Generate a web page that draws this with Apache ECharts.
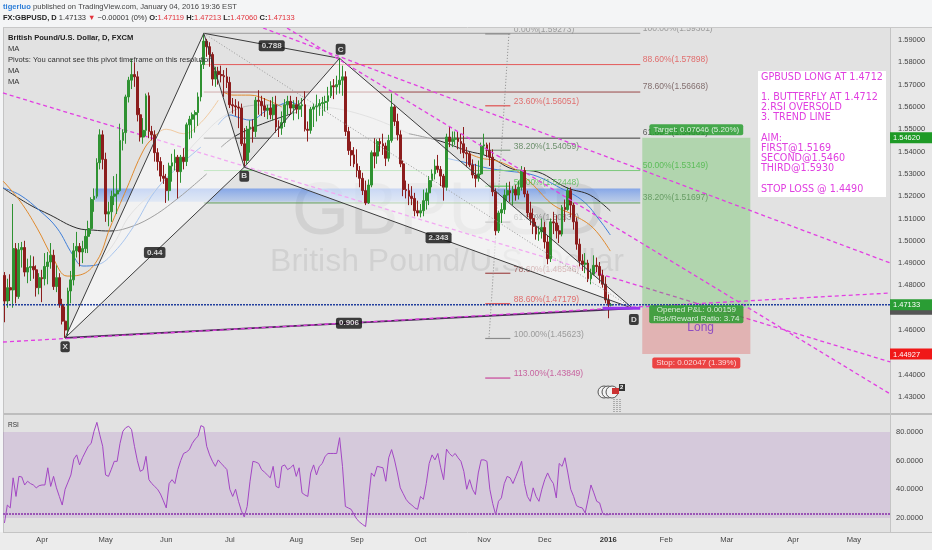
<!DOCTYPE html>
<html><head><meta charset="utf-8">
<script src="https://cdn.jsdelivr.net/npm/echarts@6/dist/echarts.min.js"></script>
<style>html,body{margin:0;padding:0;background:#f4f5f6}#c{width:932px;height:550px}</style>
</head><body><div id="c"></div>
<script>
// ---------------- DATA ----------------
const startDate = '2015-03-13', endDate = '2016-05-18';
const holidays = ['2015-12-25', '2016-01-01'];
// daily candles from 2015-03-13: [open, close, low, high]
const candles = [
[1.4845,1.4730,1.4635,1.4860],[1.4730,1.4790,1.4700,1.4830],[1.4790,1.4780,1.4730,1.4850],[1.4780,1.4965,1.4700,1.5165],[1.4965,1.4750,1.4720,1.4990],
[1.4750,1.4960,1.4740,1.4990],[1.4960,1.4970,1.4880,1.4995],[1.4970,1.4860,1.4840,1.5000],[1.4860,1.4880,1.4810,1.4920],[1.4880,1.4885,1.4820,1.4935],
[1.4885,1.4870,1.4830,1.4930],[1.4870,1.4790,1.4750,1.4890],[1.4790,1.4835,1.4760,1.4855],[1.4835,1.4830,1.4725,1.4870],[1.4830,1.4885,1.4800,1.4945],
[1.4885,1.4905,1.4805,1.4950],[1.4905,1.4935,1.4875,1.4990],[1.4935,1.4795,1.4780,1.4960],[1.4795,1.4835,1.4770,1.4890],[1.4835,1.4715,1.4700,1.4855],
[1.4715,1.4640,1.4625,1.4740],[1.4640,1.4600,1.4565,1.4705],[1.4600,1.4775,1.4575,1.4790],[1.4775,1.4825,1.4720,1.4865],[1.4825,1.4955,1.4800,1.4990],
[1.4955,1.4975,1.4925,1.5040],[1.4975,1.4950,1.4885,1.4990],[1.4950,1.4965,1.4900,1.5000],[1.4965,1.5020,1.4945,1.5050],[1.5020,1.5055,1.4945,1.5090],
[1.5055,1.5185,1.5030,1.5195],[1.5185,1.5200,1.5130,1.5235],[1.5200,1.5350,1.5190,1.5370],[1.5350,1.5475,1.5320,1.5500],[1.5475,1.5365,1.5320,1.5495],
[1.5365,1.5120,1.5085,1.5395],[1.5120,1.5130,1.5065,1.5175],[1.5130,1.5200,1.5085,1.5225],[1.5200,1.5210,1.5160,1.5290],[1.5210,1.5225,1.5120,1.5300],
[1.5225,1.5450,1.5220,1.5525],[1.5450,1.5485,1.5405,1.5500],[1.5485,1.5645,1.5435,1.5655],[1.5645,1.5720,1.5620,1.5735],[1.5720,1.5745,1.5680,1.5815],
[1.5745,1.5735,1.5690,1.5800],[1.5735,1.5565,1.5535,1.5760],[1.5565,1.5465,1.5445,1.5595],[1.5465,1.5495,1.5435,1.5550],[1.5495,1.5650,1.5470,1.5660],
[1.5650,1.5490,1.5460,1.5665],[1.5490,1.5475,1.5450,1.5515],[1.5475,1.5395,1.5355,1.5495],[1.5395,1.5355,1.5315,1.5415],[1.5355,1.5290,1.5265,1.5375],
[1.5290,1.5280,1.5255,1.5340],[1.5280,1.5225,1.5170,1.5300],[1.5225,1.5335,1.5180,1.5350],[1.5335,1.5350,1.5265,1.5390],[1.5350,1.5375,1.5315,1.5410],
[1.5375,1.5310,1.5190,1.5385],[1.5310,1.5375,1.5260,1.5385],[1.5375,1.5355,1.5320,1.5415],[1.5355,1.5520,1.5335,1.5530],[1.5520,1.5545,1.5455,1.5560],
[1.5545,1.5565,1.5460,1.5575],[1.5565,1.5575,1.5485,1.5585],[1.5575,1.5645,1.5515,1.5665],[1.5645,1.5790,1.5625,1.5810],[1.5790,1.5895,1.5770,1.5930],
[1.5895,1.5870,1.5825,1.5905],[1.5870,1.5835,1.5780,1.5890],[1.5835,1.5725,1.5695,1.5845],[1.5725,1.5760,1.5690,1.5780],[1.5760,1.5745,1.5700,1.5780],
[1.5745,1.5740,1.5710,1.5785],[1.5740,1.5735,1.5645,1.5765],[1.5735,1.5710,1.5685,1.5775],[1.5710,1.5610,1.5595,1.5735],[1.5610,1.5605,1.5570,1.5640],
[1.5605,1.5600,1.5560,1.5635],[1.5600,1.5595,1.5505,1.5625],[1.5595,1.5435,1.5425,1.5615],[1.5435,1.5360,1.5330,1.5505],[1.5360,1.5500,1.5345,1.5515],
[1.5500,1.5510,1.5395,1.5540],[1.5510,1.5490,1.5440,1.5545],[1.5490,1.5630,1.5465,1.5645],[1.5630,1.5625,1.5565,1.5675],[1.5625,1.5605,1.5560,1.5650],
[1.5605,1.5585,1.5555,1.5640],[1.5585,1.5595,1.5545,1.5610],[1.5595,1.5565,1.5545,1.5630],[1.5565,1.5610,1.5540,1.5645],[1.5610,1.5510,1.5485,1.5650],
[1.5510,1.5505,1.5465,1.5540],[1.5505,1.5530,1.5475,1.5580],[1.5530,1.5610,1.5510,1.5635],[1.5610,1.5625,1.5565,1.5650],[1.5625,1.5595,1.5565,1.5650],
[1.5595,1.5610,1.5540,1.5630],[1.5610,1.5590,1.5570,1.5645],[1.5590,1.5605,1.5545,1.5630],[1.5605,1.5610,1.5555,1.5640],[1.5610,1.5500,1.5490,1.5670],
[1.5500,1.5495,1.5445,1.5535],[1.5495,1.5590,1.5480,1.5600],[1.5590,1.5600,1.5510,1.5615],[1.5600,1.5605,1.5535,1.5655],[1.5605,1.5615,1.5560,1.5635],
[1.5615,1.5620,1.5560,1.5645],[1.5620,1.5625,1.5580,1.5650],[1.5625,1.5650,1.5585,1.5690],[1.5650,1.5695,1.5640,1.5715],[1.5695,1.5690,1.5635,1.5725],
[1.5690,1.5700,1.5655,1.5740],[1.5700,1.5720,1.5660,1.5818],[1.5720,1.5735,1.5650,1.5785],[1.5735,1.5490,1.5470,1.5760],[1.5490,1.5405,1.5385,1.5510],
[1.5405,1.5385,1.5335,1.5445],[1.5385,1.5345,1.5330,1.5420],[1.5345,1.5315,1.5285,1.5410],[1.5315,1.5280,1.5240,1.5335],[1.5280,1.5225,1.5205,1.5305],
[1.5225,1.5170,1.5160,1.5270],[1.5170,1.5250,1.5165,1.5275],[1.5250,1.5395,1.5240,1.5405],[1.5395,1.5380,1.5325,1.5460],[1.5380,1.5445,1.5345,1.5455],
[1.5445,1.5435,1.5400,1.5460],[1.5435,1.5425,1.5385,1.5480],[1.5425,1.5370,1.5335,1.5440],[1.5370,1.5450,1.5355,1.5475],[1.5450,1.5600,1.5440,1.5660],
[1.5600,1.5535,1.5515,1.5610],[1.5535,1.5475,1.5450,1.5570],[1.5475,1.5345,1.5330,1.5495],[1.5345,1.5230,1.5200,1.5360],[1.5230,1.5225,1.5190,1.5270],
[1.5225,1.5200,1.5160,1.5255],[1.5200,1.5190,1.5160,1.5245],[1.5190,1.5135,1.5110,1.5215],[1.5135,1.5125,1.5110,1.5180],[1.5125,1.5135,1.5105,1.5165],
[1.5135,1.5180,1.5110,1.5230],[1.5180,1.5215,1.5140,1.5235],[1.5215,1.5270,1.5160,1.5290],[1.5270,1.5300,1.5240,1.5320],[1.5300,1.5335,1.5275,1.5365],
[1.5335,1.5320,1.5305,1.5385],[1.5320,1.5290,1.5245,1.5335],[1.5290,1.5240,1.5180,1.5300],[1.5240,1.5465,1.5225,1.5480],[1.5465,1.5445,1.5420,1.5510],
[1.5445,1.5455,1.5420,1.5490],[1.5455,1.5460,1.5430,1.5490],[1.5460,1.5445,1.5410,1.5490],[1.5445,1.5435,1.5390,1.5480],[1.5435,1.5395,1.5370,1.5510],
[1.5395,1.5390,1.5330,1.5420],[1.5390,1.5340,1.5330,1.5400],[1.5340,1.5295,1.5280,1.5365],[1.5295,1.5280,1.5240,1.5345],[1.5280,1.5300,1.5265,1.5360],
[1.5300,1.5425,1.5295,1.5440],[1.5425,1.5430,1.5385,1.5480],[1.5430,1.5405,1.5375,1.5440],[1.5405,1.5375,1.5335,1.5440],[1.5375,1.5220,1.5200,1.5410],
[1.5220,1.5045,1.5025,1.5235],[1.5045,1.5125,1.5035,1.5135],[1.5125,1.5140,1.5080,1.5170],[1.5140,1.5205,1.5120,1.5230],[1.5205,1.5225,1.5180,1.5260],
[1.5225,1.5215,1.5175,1.5265],[1.5215,1.5230,1.5160,1.5245],[1.5230,1.5205,1.5180,1.5250],[1.5205,1.5240,1.5185,1.5270],[1.5240,1.5315,1.5225,1.5335],
[1.5315,1.5210,1.5195,1.5330],[1.5210,1.5125,1.5105,1.5225],[1.5125,1.5100,1.5070,1.5175],[1.5100,1.5065,1.5030,1.5145],[1.5065,1.5030,1.5005,1.5085],
[1.5030,1.5040,1.5000,1.5065],[1.5040,1.5060,1.5010,1.5100],[1.5060,1.4995,1.4965,1.5085],[1.4995,1.4920,1.4895,1.5025],[1.4920,1.5085,1.4905,1.5100],
[1.5085,1.5080,1.5030,1.5130],[1.5080,1.5045,1.5010,1.5115],[1.5045,1.5030,1.4990,1.5070],[1.5030,1.5150,1.5020,1.5160],[1.5150,1.5140,1.5085,1.5185],
[1.5140,1.5225,1.5135,1.5240],[1.5225,1.5160,1.5105,1.5240],[1.5160,1.5085,1.5050,1.5170],[1.5085,1.4985,1.4960,1.5105],[1.4985,1.4910,1.4885,1.5010],
[1.4910,1.4895,1.4865,1.4940],[1.4895,1.4900,1.4855,1.4945],[1.4900,1.4830,1.4815,1.4915],[1.4830,1.4850,1.4805,1.4875],[1.4850,1.4890,1.4845,1.4935],
[1.4890,1.4885,1.4860,1.4925],[1.4885,1.4845,1.4810,1.4905],[1.4845,1.4805,1.4790,1.4870],[1.4805,1.4735,1.4720,1.4840],[1.4735,1.4712,1.4653,1.4760],
[1.47119,1.47133,1.47060,1.47213]
];
const rsiValues = [
16.5,29,27,48,35,49,48.6,43,45.6,44, 43,41,42.5,43,43,55,42,49,41,35,
29,40,45,50,61,64,57,62,66,70, 72,80.5,86.7,78,70,50,49,54,59.5,59.5,
72,80.5,83,84,81.6,70,60,52.5,53.7,63, 46.7,44,42,40,36.7,32,27,44,46.7,44,
53.7,60,65,66,67.7,72,75,77,84.4,83.5, 70,64,59.5,56,60.5,58,56,53.7,40,35,
40,31.6,25,20.7,28,45.6,59.5,59,58,53.7, 52,50,48,56,42,41,56,57,53.7,55,
57,49,55,37.5,36,35,51.4,57,50,56, 58,63,65,65,65,65,76,56,28,27,
26,22.3,19,17,15.4,14,33,51.4,49,56, 55.5,55,45.6,62,67.7,60.5,51.4,41,37,33,
30.5,29,27,26,35,33,44,58,64,60.5, 65,55,46.7,68,65,63,65,62,59.5,52.5,
40,46.7,40,36.3,51.4,60.5,60.5,59.5,40,30, 22.3,31.6,34,44,49,48,44,49,54,59.5,
44,35,31.6,41,35,31.6,40,46.7,51.4,47, 44,34,58,56,62,51.4,40,35,28.6,27.5,
27,23.5,33,43,37.5,31.6,30.5,23.5,22.3,22.3,22.5
];
const tickDates = ['2015-04-01','2015-05-01','2015-06-01','2015-07-01','2015-08-03','2015-09-01','2015-10-01','2015-11-02','2015-12-01','2016-01-04','2016-02-01','2016-03-01','2016-04-01','2016-05-02'];
const tickLabels = ['Apr','May','Jun','Jul','Aug','Sep','Oct','Nov','Dec','2016','Feb','Mar','Apr','May'];

// moving-average traces: [bar index, price]
const maOrange = [
  [[-0.5,1.5268],[5.4,1.5178],[11.3,1.5057],[16.8,1.4923],[21.7,1.4842],[26.2,1.4847],[32.0,1.4910],[36.5,1.5057],[42.4,1.5237],[48.0,1.5403],[51.4,1.5461],[56,1.5500],[62,1.5480],[68,1.5530],[74,1.5630]],
  [[76,1.5665],[79.1,1.5653],[85.0,1.5653],[90.9,1.5631],[96,1.5600]],
  [[160,1.5395],[165,1.5370],[169.2,1.5362],[174.0,1.5340],[177.5,1.5313],[183.0,1.5250],[189.9,1.5161],[196.9,1.5116],[203.8,1.5057],[209.7,1.4954]]
];
const maBlue = [
  [[-0.5,1.5237],[5.4,1.5205],[12.3,1.5134],[18.2,1.5057],[23.7,1.4936],[27.2,1.4887],[32.0,1.4892],[38,1.4950],[45,1.5070],[52,1.5220],[60,1.5330],[68,1.5420]],
  [[74,1.5520],[78.1,1.5564],[80.5,1.5555],[85.0,1.5541],[90.9,1.5586],[94.4,1.5604],[98.9,1.5622],[102.3,1.5600]],
  [[153,1.5370],[160.2,1.5349],[167.1,1.5326],[174.0,1.5313],[183.0,1.5295],[192.4,1.5237],[200.3,1.5178],[206.2,1.5089],[209.7,1.5026]]
];
const maBlack = [
  [[-0.5,1.5237],[8.8,1.5161],[15.8,1.5116],[25.1,1.5057],[30.7,1.5048],[36.5,1.5044],[42.4,1.5057],[50.4,1.5102],[60,1.5190],[70,1.5300]],
  [[75,1.5420],[80.5,1.5474],[90.9,1.5532],[101.3,1.5577]],
  [[140,1.5480],[150.8,1.5447],[160.2,1.5403],[167.1,1.5380],[177.5,1.5317],[183.0,1.5313],[194.8,1.5237],[202.7,1.5205],[209.7,1.5134]]
];
const maGray = [
  [[33.1,1.4910],[38,1.4990],[43.5,1.5116],[53.9,1.5250],[67.7,1.5461],[79.1,1.5582],[90.9,1.5609],[110,1.5600],[125,1.5560],[140,1.5480]]
];

// drawing anchors: [bar index, price]
const ptX = [21, 1.4565], ptA = [69, 1.5930], ptB = [83, 1.5330], ptC = [116, 1.5818], ptD = [217.5, 1.4697];
const ratioText = ['0.44', '0.788', '2.343', '0.906'];
const fibMainRange = [69, 220.06];
const fibMainLevels = [1.59301, 1.57898, 1.56668, 1.54601, 1.53149, 1.51697];
const fibMainText = ['100.00%(1.59301)', '88.60%(1.57898)', '78.60%(1.56668)', '61.80%(1.54601)', '50.00%(1.53149)', '38.20%(1.51697)'];
const fibShortRange = [166.4, 175.1];
const fibShortLevels = [1.59273, 1.56051, 1.54059, 1.52448, 1.50837, 1.48546, 1.47179, 1.45623, 1.43849];
const fibShortText = ['0.00%(1.59273)', '23.60%(1.56051)', '38.20%(1.54059)', '50.00%(1.52448)', '61.80%(1.50837)', '78.60%(1.48546)', '88.60%(1.47179)', '100.00%(1.45623)', '113.00%(1.43849)'];
const fibShortTrend = [[174.6, 1.59273], [167.7, 1.45623]];
const zoneBlue = [[31.3, 1.5175], [220.06, 1.5235]];
const trendLa = [[89.5, 1.59538], [306.6, 1.49006]];
const trendP = [[97.8, 1.59538], [306.6, 1.43134]];
const trendM1 = [[-0.5, 1.56625], [306.6, 1.44569]];
const trendT1 = [[-0.5, 1.45465], [306.6, 1.47661]];
const entryPrice = 1.46974, targetPrice = 1.54620, stopPrice = 1.44927, lastPrice = 1.47133;
const positionRange = [220.76, 258.16];
const positionText = ['Target: 0.07646 (5.20%)', 'Opened P&L: 0.00159\nRisk/Reward Ratio: 3.74', 'Long', 'Stop: 0.02047 (1.39%)'];
const noteLines = ['GPBUSD LONG AT 1.4712', '', '1. BUTTERFLY AT 1.4712', '2.RSI OVERSOLD', '3. TREND LINE', '', 'AIM:', 'FIRST@1.5169', 'SECOND@1.5460', 'THIRD@1.5930', '', 'STOP LOSS @ 1.4490'];
const rsiBand = [20, 80], rsiLevel = 22.8;

// ---------------- BUILD ----------------
function tradingDays(s, e, skip) {
  const out = []; const d = new Date(s + 'T00:00:00Z'); const end = new Date(e + 'T00:00:00Z');
  while (d <= end) { const w = d.getUTCDay(); const k = d.toISOString().slice(0, 10);
    if (w !== 0 && w !== 6 && skip.indexOf(k) < 0) out.push(k); d.setUTCDate(d.getUTCDate() + 1); }
  return out;
}
const dates = tradingDays(startDate, endDate, holidays);
const N = dates.length;
const FONT = 'Liberation Sans, Arial, sans-serif';
const MAG = '#e23fe2';

function seg(points, lineStyle, z) {
  return { type: 'line', xAxisIndex: 1, yAxisIndex: 0, data: points, symbol: 'none', silent: true, animation: false, z: z, lineStyle: lineStyle };
}
function smooth(points, lineStyle, z) {
  const s = seg(points, lineStyle, z); s.smooth = 0.4; return s;
}
function polys(list, z) {
  return { type: 'custom', xAxisIndex: 1, yAxisIndex: 0, z: z, silent: true, animation: false,
    data: list.map((p, i) => [i, 1.5]),
    renderItem: (params, api) => { const p = list[params.dataIndex];
      return { type: 'polygon', shape: { points: p.pts.map(q => api.coord(q)) }, style: { fill: p.fill } }; } };
}
function labels(items, z) {
  return { type: 'scatter', xAxisIndex: 1, yAxisIndex: 0, symbolSize: 1, itemStyle: { color: 'rgba(0,0,0,0)' }, silent: true, animation: false, z: z,
    data: items.map(it => ({ value: it.at, label: Object.assign({ show: true, formatter: it.text, fontFamily: FONT }, it.style) })) };
}
function mid(a, b) { return [(a[0] + b[0]) / 2, (a[1] + b[1]) / 2]; }

const series = [];
// blue zone
series.push(polys([{ pts: [[zoneBlue[0][0], zoneBlue[0][1]], [zoneBlue[1][0], zoneBlue[0][1]], [zoneBlue[1][0], zoneBlue[1][1]], [zoneBlue[0][0], zoneBlue[1][1]]],
  fill: new echarts.graphic.LinearGradient(0, 0, 0, 1, [{ offset: 0, color: 'rgba(70,125,235,0.6)' }, { offset: 1, color: 'rgba(110,160,240,0.35)' }]) }], 1));
// moving averages
maGray.forEach(s => series.push(smooth(s, { color: '#bdbdbd', width: 1 }, 1)));
maBlack.forEach(s => series.push(smooth(s, { color: '#2c2c2c', width: 1 }, 1)));
maBlue.forEach(s => series.push(smooth(s, { color: '#3f7fd9', width: 1 }, 1)));
maOrange.forEach(s => series.push(smooth(s, { color: '#e08a2e', width: 1 }, 1)));
// main fib level lines
const fibMainColors = ['#9a9a9a', '#e35a5a', '#9a4a4a', '#3a3a3a', '#7cc87c', '#5c9c5c'];
const fibMainLabelColors = ['#8a8a8a', '#e05050', '#6a5050', '#3a3a3a', '#45b445', '#5a7a5a'];
fibMainLevels.forEach((p, i) => series.push(seg([[fibMainRange[0], p], [fibMainRange[1], p]], { color: fibMainColors[i], width: 1 }, 1)));
series.push(labels(fibMainLevels.map((p, i) => ({ at: [fibMainRange[1], p], text: fibMainText[i],
  style: { position: 'right', distance: 2, offset: [0, -5], color: fibMainLabelColors[i], fontSize: 8.5 } })), 1));
// short fib
const fibShortColors = ['#8a8a8a', '#e05050', '#7f9a7f', '#5cc45c', '#8a8a8a', '#a04a4a', '#e05050', '#8a8a8a', '#c8449a'];
const fibShortLabelColors = ['#8a8a8a', '#e05050', '#4f7a4f', '#4cbc4c', '#7a7a7a', '#9a4a4a', '#e05050', '#8a8a8a', '#c0448e'];
fibShortLevels.forEach((p, i) => series.push(seg([[fibShortRange[0], p], [fibShortRange[1], p]], { color: fibShortColors[i], width: 1.2 }, 1)));
series.push(seg(fibShortTrend, { color: '#8a8a8a', width: 1, type: [1, 2] }, 1));
series.push(labels(fibShortLevels.map((p, i) => ({ at: [fibShortRange[1], p], text: fibShortText[i],
  style: { position: 'right', distance: 3, offset: [0, -4], color: fibShortLabelColors[i], fontSize: 8.5 } })), 1));
// dashed trend line under pattern fill
series.push(seg(trendM1, { color: MAG, width: 1.3, type: [4, 3] }, 1));
// pattern fills
series.push(polys([{ pts: [ptX, ptA, ptB], fill: 'rgba(255,255,255,0.55)' }, { pts: [ptB, ptC, ptD], fill: 'rgba(255,255,255,0.55)' }], 2));
// position boxes
series.push(polys([
  { pts: [[positionRange[0], entryPrice], [positionRange[1], entryPrice], [positionRange[1], targetPrice], [positionRange[0], targetPrice]], fill: 'rgba(76,186,66,0.32)' },
  { pts: [[positionRange[0], stopPrice], [positionRange[1], stopPrice], [positionRange[1], entryPrice], [positionRange[0], entryPrice]], fill: 'rgba(222,50,50,0.27)' }
], 2));
// candles
series.push({ type: 'candlestick', xAxisIndex: 0, yAxisIndex: 0, data: candles, barWidth: 2.3, z: 3, silent: true, animation: false,
  itemStyle: { color: '#2f9232', color0: '#8c1d1d', borderColor: '#2f9232', borderColor0: '#8c1d1d', borderWidth: 1 } });
// pattern lines
const patStyle = { color: '#3c3c3c', width: 1 };
[[ptX, ptA], [ptA, ptB], [ptB, ptC], [ptC, ptD], [ptX, ptB], [ptA, ptC], [ptB, ptD]].forEach(s => series.push(seg(s, patStyle, 4)));
series.push(seg([ptX, ptD], { color: '#4a2a58', width: 1.6 }, 4));
series.push(seg([ptA, ptD], { color: '#9a9a9a', width: 1, type: [1, 2] }, 4));
// dashed magenta trend lines
series.push(seg(trendT1, { color: MAG, width: 1.3, type: [4, 3] }, 5));
series.push(seg(trendLa, { color: MAG, width: 1.3, type: [4, 3] }, 5));
series.push(seg(trendP, { color: MAG, width: 1.3, type: [4, 3] }, 5));
// price line + entry line
series.push(seg([[-0.5, lastPrice], [N - 0.5, lastPrice]], { color: '#23409e', width: 1.5, type: [2, 1] }, 5));
series.push(seg([[207, entryPrice], [220.06, entryPrice]], { color: '#9a35ee', width: 3 }, 5));
// badges
const badge = { backgroundColor: '#111', color: '#fff', fontWeight: 'bold', fontSize: 8, padding: [2, 3, 1, 3], borderRadius: 2, position: 'inside' };
series.push(labels([
  { at: mid(ptX, ptB), text: ratioText[0], style: badge },
  { at: mid(ptA, ptC), text: ratioText[1], style: badge },
  { at: mid(ptB, ptD), text: ratioText[2], style: badge },
  { at: mid(ptX, ptD), text: ratioText[3], style: badge },
  { at: ptX, text: 'X', style: Object.assign({}, badge, { offset: [0, 9], padding: [2, 2, 1, 2] }) },
  { at: ptB, text: 'B', style: Object.assign({}, badge, { offset: [0, 9], padding: [2, 2, 1, 2] }) },
  { at: ptC, text: 'C', style: Object.assign({}, badge, { offset: [1, -9], padding: [2, 2, 1, 2] }) },
  { at: ptD, text: 'D', style: Object.assign({}, badge, { offset: [1, 11], padding: [2, 2, 1, 2] }) }
], 6));
const posMid = (positionRange[0] + positionRange[1]) / 2;
series.push(labels([
  { at: [posMid, targetPrice], text: positionText[0], style: { position: 'inside', offset: [0, -8], backgroundColor: '#1e9a26', color: '#fff', fontSize: 8, padding: [2, 4, 1, 4], borderRadius: 2 } },
  { at: [posMid, entryPrice], text: positionText[1], style: { position: 'inside', offset: [0, 6], backgroundColor: '#1e9a26', color: '#fff', fontSize: 8, lineHeight: 8.5, padding: [1, 4, 0, 4], borderRadius: 2 } },
  { at: [posMid + 1.5, entryPrice], text: positionText[2], style: { position: 'inside', offset: [0, 19], color: '#7b35c4', fontSize: 12 } },
  { at: [posMid, stopPrice], text: positionText[3], style: { position: 'inside', offset: [0, 9], backgroundColor: '#ee1c1c', color: '#fff', fontSize: 8, padding: [2, 4, 1, 4], borderRadius: 2 } }
], 6));
// RSI
series.push({ type: 'line', xAxisIndex: 2, yAxisIndex: 1, data: rsiValues, symbol: 'none', silent: true, animation: false, z: 4,
  lineStyle: { color: '#a347c4', width: 1 },
  markArea: { silent: true, itemStyle: { color: 'rgba(150,80,185,0.17)' }, data: [[{ yAxis: rsiBand[0] }, { yAxis: rsiBand[1] }]] },
  markLine: { silent: true, symbol: 'none', label: { show: false }, lineStyle: { color: '#9a55b5', width: 2, type: [2, 1] }, data: [{ yAxis: rsiLevel }] } });

const option = {
  animation: false,
  backgroundColor: '#f4f5f6',
  textStyle: { fontFamily: FONT },
  grid: [
    { left: 3, width: 887, top: 17.69, height: 401.62, outerBoundsMode: 'none' },
    { left: 3, width: 887, top: 403.3, height: 143.3, outerBoundsMode: 'none' },
    { left: 3, width: 887, top: 531, height: 1, outerBoundsMode: 'none' }
  ],
  xAxis: [
    { type: 'category', gridIndex: 0, data: dates, show: false, boundaryGap: true },
    { type: 'value', gridIndex: 0, min: -0.5, max: N - 0.5, show: false },
    { type: 'category', gridIndex: 1, data: dates, show: false, boundaryGap: true },
    { type: 'category', gridIndex: 2, data: dates, boundaryGap: true, axisLine: { show: false }, axisTick: { show: false }, splitLine: { show: false },
      axisLabel: { interval: (i, v) => tickDates.indexOf(v) >= 0, margin: 4, fontSize: 7.6, color: '#444', fontFamily: FONT,
        formatter: v => { const l = tickLabels[tickDates.indexOf(v)]; return l === '2016' ? '{b|2016}' : l; },
        rich: { b: { fontWeight: 'bold', fontSize: 7.6, color: '#333', fontFamily: FONT } } } }
  ],
  yAxis: [
    { type: 'value', gridIndex: 0, position: 'right', min: 1.42, max: 1.60, interval: 0.01, splitLine: { show: false }, axisLine: { show: false }, axisTick: { show: false },
      axisLabel: { formatter: v => v.toFixed(5), fontSize: 7.5, color: '#444', margin: 8, showMinLabel: false, showMaxLabel: false, fontFamily: FONT } },
    { type: 'value', gridIndex: 1, position: 'right', min: 0, max: 100, interval: 20, splitLine: { show: false }, axisLine: { show: false }, axisTick: { show: false },
      axisLabel: { formatter: v => (v >= 20 && v <= 80) ? v.toFixed(4) : '', fontSize: 7.5, color: '#444', margin: 6, fontFamily: FONT } },
    { type: 'value', gridIndex: 2, show: false }
  ],
  series: series
};

const chart = echarts.init(document.getElementById('c'), null, { renderer: 'canvas', width: 932, height: 550 });
chart.setOption(option);

// ---------------- GRAPHICS (pixel decorations) ----------------
const yOf = p => chart.convertToPixel({ yAxisIndex: 0 }, p);
function txt(x, y, text, style, z) {
  return { type: 'text', x: x, y: y, z: z || 101, silent: true, style: Object.assign({ text: text, fill: '#333', font: '7.6px ' + FONT, textAlign: 'left', textVerticalAlign: 'middle', verticalAlign: 'middle' }, style) };
}
function rect(x, y, w, h, fill, z, stroke) {
  return { type: 'rect', z: z, silent: true, shape: { x: x, y: y, width: w, height: h }, style: { fill: fill, stroke: stroke || null, lineWidth: 1 } };
}
function tag(price, text, fill) {
  const y = yOf(price);
  return [rect(890, y - 5.5, 42, 11, fill, 50), txt(893, y + 0.5, text, { fill: '#fff', font: '7.5px ' + FONT }, 51)];
}
const g = [];
g.push(rect(3, 28, 887, 385, '#e2e2e2', -2));
g.push(rect(3, 415, 887, 117, '#e2e2e2', -2));
g.push(rect(890, 28, 42, 504, '#e8e8e8', -2));
g.push(rect(0, 532, 932, 18, '#ececec', -2));
g.push({ type: 'line', z: -1, silent: true, shape: { x1: 3, y1: 414, x2: 932, y2: 414 }, style: { stroke: '#bdbdbd', lineWidth: 2 } });
g.push({ type: 'line', z: -1, silent: true, shape: { x1: 890.5, y1: 28, x2: 890.5, y2: 532 }, style: { stroke: '#c4c4c4', lineWidth: 1 } });
g.push({ type: 'line', z: -1, silent: true, shape: { x1: 3, y1: 532.5, x2: 932, y2: 532.5 }, style: { stroke: '#c4c4c4', lineWidth: 1 } });
g.push({ type: 'line', z: -1, silent: true, shape: { x1: 3.5, y1: 28, x2: 3.5, y2: 532 }, style: { stroke: '#c4c4c4', lineWidth: 1 } });
// watermark
g.push(txt(448, 214, 'GBPUSD', { fill: 'rgba(0,0,0,0.075)', font: '74px ' + FONT, textAlign: 'center' }, -1));
g.push(txt(447, 262, 'British Pound/U.S. Dollar', { fill: 'rgba(0,0,0,0.075)', font: '32px ' + FONT, textAlign: 'center' }, -1));
// header
g.push(rect(0, 0, 932, 28, '#f4f5f6', 100));
g.push({ type: 'line', z: 100, silent: true, shape: { x1: 3, y1: 27.5, x2: 932, y2: 27.5 }, style: { stroke: '#c8c8c8', lineWidth: 1 } });
g.push(txt(3, 7, '{u|tigerluo} {n|published on TradingView.com, January 04, 2016 19:36 EST}', {
  rich: { u: { fill: '#2f7fd8', font: 'bold 7.6px ' + FONT }, n: { fill: '#444', font: '7.6px ' + FONT } } }));
g.push(txt(3, 18, '{b|FX:GBPUSD, D} {n|1.47133} {r|\u25BC} {n|\u22120.00001 (0%)} {b|O:}{r|1.47119} {b|H:}{r|1.47213} {b|L:}{r|1.47060} {b|C:}{r|1.47133}', {
  rich: { b: { fill: '#222', font: 'bold 7.5px ' + FONT }, n: { fill: '#333', font: '7.5px ' + FONT }, r: { fill: '#e2333c', font: '7.5px ' + FONT } } }));
// legend in pane
g.push(txt(8, 38, 'British Pound/U.S. Dollar, D, FXCM', { fill: '#222', font: 'bold 7.6px ' + FONT }, 60));
g.push(txt(8, 49, 'MA', { fill: '#333' }, 60));
g.push(txt(8, 60, 'Pivots: You cannot see this pivot timeframe on this resolution', { fill: '#333' }, 60));
g.push(txt(8, 71, 'MA', { fill: '#333' }, 60));
g.push(txt(8, 82, 'MA', { fill: '#333' }, 60));
g.push(txt(8, 425, 'RSI', { fill: '#333', font: '6.5px ' + FONT }, 60));
// note box
g.push(rect(758, 71, 128, 126, '#ffffff', 60));
g.push({ type: 'text', z: 61, silent: true, x: 761, y: 72, style: { text: noteLines.join('\n'), fill: '#e03fe0', font: '9.6px DejaVu Sans, sans-serif', lineHeight: 10.2, textAlign: 'left', textVerticalAlign: 'top', verticalAlign: 'top' } });
// price tags
g.push(...tag(targetPrice, '1.54620', '#1e9a26'));
g.push(rect(890, yOf(lastPrice) + 4, 42, 6, '#555', 49));
g.push(...tag(lastPrice, '1.47133', '#2a9d34'));
g.push(...tag(stopPrice, '1.44927', '#f01818'));
// event icons
[604, 608, 612].forEach(x => g.push({ type: 'circle', z: 60, silent: true, shape: { cx: x, cy: 392, r: 6 }, style: { fill: '#f2f2f2', stroke: '#555', lineWidth: 1 } }));
g.push(rect(612, 388, 7, 6, '#c33', 61));
g.push(rect(619, 384, 6, 7, '#333', 61));
g.push(txt(620, 387.5, '2', { fill: '#fff', font: 'bold 6px ' + FONT }, 62));
[614, 617, 620].forEach(x => g.push({ type: 'line', z: 60, silent: true, shape: { x1: x, y1: 399, x2: x, y2: 413 }, style: { stroke: '#777', lineWidth: 1, lineDash: [1, 1] } }));
chart.setOption({ graphic: g });
</script>
</body></html>
